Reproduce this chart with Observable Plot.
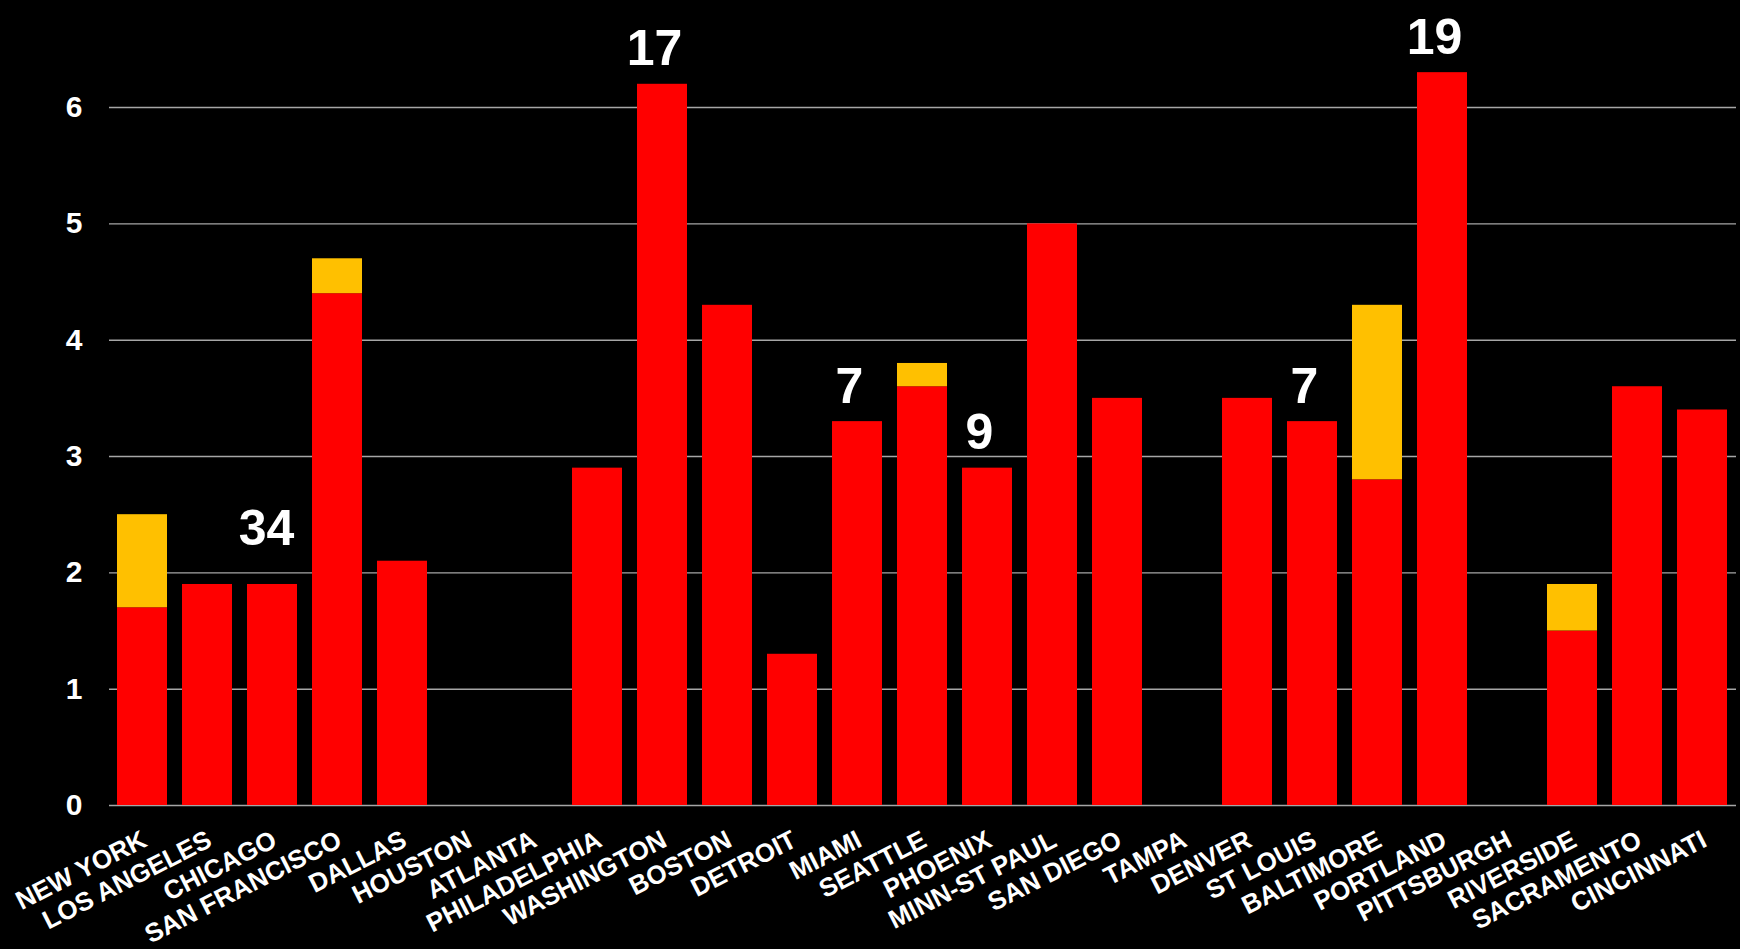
<!DOCTYPE html>
<html>
<head>
<meta charset="utf-8">
<script src="https://cdn.jsdelivr.net/npm/d3@7"></script>
<script src="https://cdn.jsdelivr.net/npm/@observablehq/plot@0.6"></script>
<style>
  html, body { margin: 0; padding: 0; background: #000; }
  #chart svg { display: block; }
</style>
</head>
<body>
<div id="chart"></div>
<script>
// ---- data ----
const cities = ["NEW YORK","LOS ANGELES","CHICAGO","SAN FRANCISCO","DALLAS","HOUSTON","ATLANTA","PHILADELPHIA","WASHINGTON","BOSTON","DETROIT","MIAMI","SEATTLE","PHOENIX","MINN-ST PAUL","SAN DIEGO","TAMPA","DENVER","ST LOUIS","BALTIMORE","PORTLAND","PITTSBURGH","RIVERSIDE","SACRAMENTO","CINCINNATI"];
const series1 = [1.7,1.9,1.9,4.4,2.1,0,0,2.9,6.2,4.3,1.3,3.3,3.6,2.9,5.0,3.5,0,3.5,3.3,2.8,6.3,0,1.5,3.6,3.4];
const series2 = [0.8,0,0,0.3,0,0,0,0,0,0,0,0,0.2,0,0,0,0,0,0,1.5,0,0,0.4,0,0];
const seriesNames = ["Series 1","Series 2"];
const seriesColors = ["#ff0000","#ffc000"];
const yTicks = [0,1,2,3,4,5,6];
const labelCities = ["CHICAGO","WASHINGTON","MIAMI","PHOENIX","ST LOUIS","PORTLAND"];
const labelTexts = ["34","17","7","9","7","19"];

// ---- derived tables ----
const rows = [];
cities.forEach((c, i) => {
  rows.push({city: c, series: seriesNames[0], value: series1[i]});
  rows.push({city: c, series: seriesNames[1], value: series2[i]});
});
const labelRows = labelCities.map((c, i) => {
  const k = cities.indexOf(c);
  return {city: c, label: labelTexts[i], total: series1[k] + series2[k]};
});

const font = "'Liberation Sans', Arial, sans-serif";

const chart = Plot.plot({
  width: 1740,
  height: 949,
  marginLeft: 109,
  marginRight: 4,
  marginTop: 14,
  marginBottom: 144,
  style: {background: "#000", color: "#fff", fontFamily: font},
  x: {domain: cities, paddingInner: 0.23, paddingOuter: 0.123, label: null},
  y: {domain: [0, 6.8], label: null},
  color: {domain: seriesNames, range: seriesColors},
  marks: [
    Plot.gridY(yTicks, {stroke: "#a6a6a6", strokeOpacity: 1, strokeWidth: 1.4}),
    Plot.barY(rows, {x: "city", y: "value", fill: "series"}),
    Plot.text(labelRows.filter(d => d.city !== "CHICAGO"), {
      x: "city", y: "total", text: "label", lineAnchor: "bottom",
      dx: -8, dy: -19, fontSize: 50, fontWeight: "bold", fill: "#fff"
    }),
    Plot.text(labelRows.filter(d => d.city === "CHICAGO"), {
      x: "city", y: "total", text: "label", lineAnchor: "bottom",
      dx: -6, dy: -39, fontSize: 50, fontWeight: "bold", fill: "#fff"
    }),
    Plot.axisY(yTicks, {
      tickSize: 0, tickPadding: 27, fontSize: 30, fontWeight: "bold",
      tickFormat: "d", color: "#fff", label: null
    }),
    Plot.axisX({
      tickSize: 0, tickPadding: 0, tickRotate: -27, textAnchor: "end",
      lineAnchor: "bottom", dx: 6, dy: 40, fontSize: 26, fontWeight: "bold",
      color: "#fff", label: null
    })
  ]
});
document.getElementById("chart").appendChild(chart);
</script>
</body>
</html>
